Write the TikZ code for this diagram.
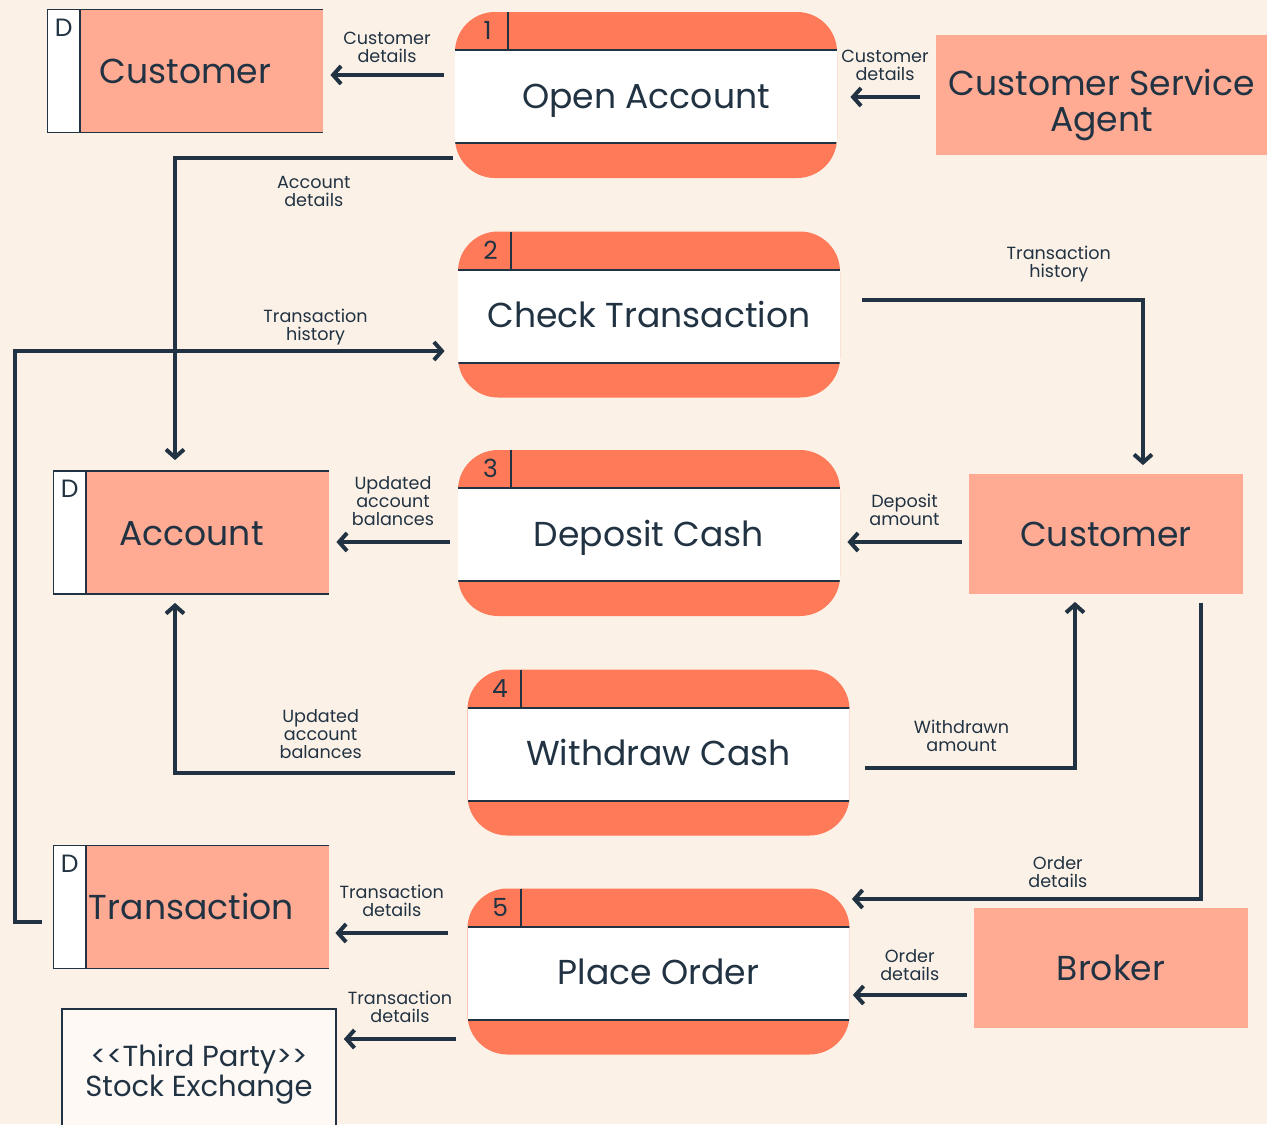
\documentclass[tikz,border=0pt]{standalone}
\usepackage{fontspec}
\setmainfont{Poppins}
\usepackage{tikz}
\usetikzlibrary{calc}
\usetikzlibrary{arrows.meta}
\definecolor{bgcream}{HTML}{FCF1E7}
\definecolor{procorange}{HTML}{FF7A59}
\definecolor{entsalmon}{HTML}{FFAA92}
\definecolor{navy}{HTML}{213343}

\begin{document}
\begin{tikzpicture}[x=0.5pt,y=-0.5pt]
\tikzset{
    proc/.style={rounded corners=20pt, fill=procorange, minimum width=191pt, minimum height=83pt,
        inner sep=0pt, text=navy, text height=13pt, text depth=0pt, font=\fontsize{17.3}{18}\selectfont,
        path picture={
            \fill[white, sharp corners] ([yshift=-19pt]path picture bounding box.north west)
                rectangle ([yshift=17.5pt]path picture bounding box.south east);
            \draw[navy, line width=1pt, sharp corners]
                ([yshift=-19pt]path picture bounding box.north west) -- ([yshift=-19pt]path picture bounding box.north east)
                ([yshift=17.5pt]path picture bounding box.south west) -- ([yshift=17.5pt]path picture bounding box.south east)
                ([xshift=26.5pt]path picture bounding box.north west) -- ++(0,-19pt); }},
    store/.style={fill=entsalmon, minimum width=137.5pt, minimum height=61pt, inner sep=0pt,
        text=navy, text height=12.5pt, text depth=0pt, font=\fontsize{17.3}{18}\selectfont,
        path picture={
            \fill[white] (path picture bounding box.north west) rectangle ([xshift=16pt]path picture bounding box.south west);
            \draw[navy, line width=0.8pt] ([xshift=16pt]path picture bounding box.north west) -- ([xshift=16pt]path picture bounding box.south west); }},
    rim/.style={draw=navy, line width=0.8pt},
    ent/.style={fill=entsalmon, minimum width=137pt, minimum height=60pt, inner sep=0pt,
        text=navy, align=center, font=\fontsize{17.3}{18}\selectfont},
    ext/.style={fill=white!60!bgcream, draw=navy, line width=0.8pt, minimum width=137pt, minimum height=65pt,
        inner sep=0pt, text=navy, align=center, font=\fontsize{14.5}{15}\selectfont},
    num/.style={text=navy, inner sep=0pt, font=\fontsize{12.5}{12.5}\selectfont},
    flow/.style={draw=navy, line width=2pt, -{Straight Barb[length=4pt,width=9pt]}},
    lbl/.style={text=navy, align=center, inner sep=2pt, font=\fontsize{8.8}{9}\selectfont},
    }
\path[use as bounding box, fill=bgcream] (0,0) rectangle (1267,1124);

% Processes
\foreach \i/\x/\y/\t in {1/646/95/Open Account, 2/649/314.5/Check Transaction, 3/649/533/Deposit Cash,
    4/658.5/752.5/Withdraw Cash, 5/658.5/971.5/Place Order}{
    \node[proc] (p\i) at (\x,\y) {\t};
    \node[num] at ($(p\i.north west)+(33,19)$) {\i};
}

% Data stores
\foreach \i/\x/\y/\t in {1/185.5/71/Customer, 2/191.5/532.5/Account, 3/191.5/907/Transaction}{
    \node[store] (s\i) at (\x,\y) {\t};
    \draw[rim] (s\i.north east) -| (s\i.south west) -- (s\i.south east);
    \node[num] at ($(s\i.north west)+(16,18)$) {D};
}

% External entities
\node[ent, minimum width=165.5pt, text height=36pt, text depth=0pt] (e1) at (1101.5,95) {Customer Service\\Agent};
\node[ent, text height=12.5pt, text depth=0pt] (e2) at (1106,533.5) {Customer};
\node[ent, text height=12.5pt, text depth=0pt] (e3) at (1111,968) {Broker};
\node[ext] (e4) at (199,1074) {<{}<Third Party>{}>\\Stock Exchange};

% Data flows
\draw[flow] ($(p1.west)+(-11,-20)$) -- node[lbl, above=3pt] {Customer\\details} ($(p1.west -| s1.east)+(7,-20)$);
\draw[flow] ($(e1.west)+(-16,2)$) -- node[lbl, above=5pt] {Customer\\details} ($(e1.west -| p1.east)+(13,2)$);
\draw[flow] ($(p1.south west)+(-2,-20)$) -| node[lbl, pos=0.25, below=6pt] {Account\\details} ($(s2.north)+(-16.5,-11)$);
\draw[flow] ($(s3.west)+(-12,15)$) -- ++(-27,0) |- node[lbl, pos=0.85, above] {Transaction\\history} ($(p2.west)+(-13,36.5)$);
\draw[flow] ($(p2.east)+(22,-14.5)$) -| node[lbl, pos=0.35, above=6pt] {Transaction\\history} ($(e2.north)+(37,-8)$);
\draw[flow] ($(p3.west)+(-8,9)$) -- node[lbl, above=5pt] {Updated\\account\\balances} ($(p3.west -| s2.east)+(7,9)$);
\draw[flow] ($(e2.west)+(-7,8.5)$) -- node[lbl, above=5pt] {Deposit\\amount} ($(e2.west -| p3.east)+(7,8.5)$);
\draw[flow] ($(p4.west)+(-12,20.5)$) -| node[lbl, pos=0.24, above=4pt] {Updated\\account\\balances} ($(s2.south)+(-16.5,9)$);
\draw[flow] ($(p4.east)+(15,15.5)$) -| node[lbl, pos=0.23, above=5pt] {Withdrawn\\amount} ($(e2.south)+(-31,8)$);
\draw[flow] ($(e2.south)+(95,9)$) |- node[lbl, pos=0.705, above=2.5pt] {Order\\details} ($(p5.east)+(2,-72.5)$);
\draw[flow] ($(e3.west)+(-7,27)$) -- node[lbl, above=4pt] {Order\\details} ($(e3.west -| p5.east)+(3,27)$);
\draw[flow] ($(p5.west)+(-19,-38.5)$) -- node[lbl, above=5pt] {Transaction\\details} ($(p5.west -| s3.east)+(6,-38.5)$);
\draw[flow] ($(p5.west)+(-11,67.5)$) -- node[lbl, above=5pt] {Transaction\\details} ($(p5.west -| e4.east)+(7,67.5)$);

\end{tikzpicture}
\end{document}
